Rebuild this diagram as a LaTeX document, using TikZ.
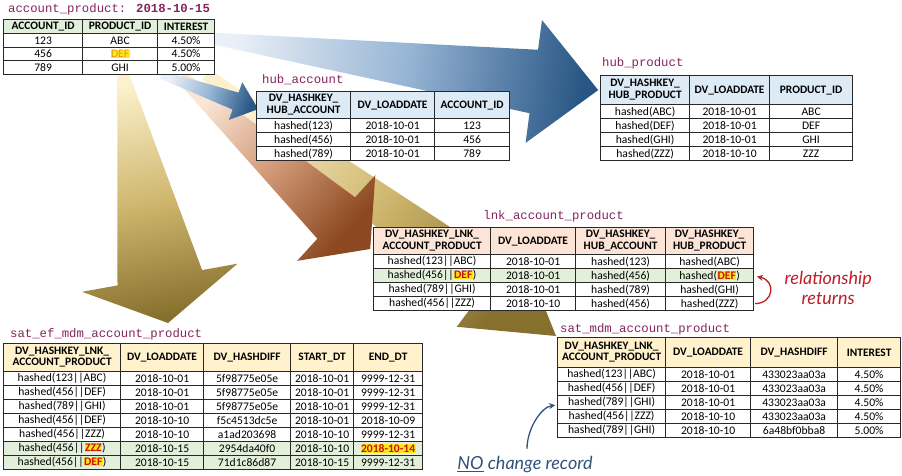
\documentclass[tikz,border=0pt]{standalone}
\usepackage{fontspec}
\setmainfont{Carlito}
\newfontfamily\titlefont{Liberation Mono}
\newfontfamily\handfont{Lato}
\usetikzlibrary{matrix,calc,arrows.meta,backgrounds}

\definecolor{tblline}{RGB}{40,40,40}
\definecolor{hdgreen}{RGB}{226,239,218}
\definecolor{hdblue}{RGB}{221,235,247}
\definecolor{hdpeach}{RGB}{252,228,214}
\definecolor{hdcream}{RGB}{255,242,204}
\definecolor{rowgreen}{RGB}{226,239,218}
\definecolor{hlyellow}{RGB}{255,228,30}
\definecolor{hlred}{RGB}{200,20,10}
\definecolor{hlgold}{RGB}{222,160,20}
\definecolor{titlecol}{RGB}{134,36,92}
\definecolor{relred}{RGB}{190,30,40}
\definecolor{noteblue}{RGB}{50,84,120}
% big arrows
\definecolor{blueL}{RGB}{234,240,248}
\definecolor{blueM}{RGB}{150,180,212}
\definecolor{blueD}{RGB}{40,86,132}
\definecolor{brownL}{RGB}{250,230,215}
\definecolor{brownM}{RGB}{208,152,118}
\definecolor{brownD}{RGB}{140,72,32}
\definecolor{goldL}{RGB}{252,241,204}
\definecolor{goldM}{RGB}{208,184,112}
\definecolor{goldD}{RGB}{135,112,45}

\newcommand{\hl}[1]{{\setlength{\fboxsep}{0.5pt}\colorbox{hlyellow}{\textcolor{hlred}{\bfseries #1}}}}
\newcommand{\hlsoft}[1]{{\setlength{\fboxsep}{0.5pt}\colorbox{hlyellow}{\textcolor{hlgold}{#1}}}}
\newcommand{\twoln}[2]{\begin{tabular}{@{}c@{}}#1\\#2\end{tabular}}

% style, tail, tip, tail half width, shaft half width, head half width, head length, shading angle
\newcommand{\flowarrow}[8]{%
  \coordinate (fa-tail) at (#2);
  \coordinate (fa-tip) at (#3);
  \coordinate (fa-base) at ($(fa-tip)!#7!(fa-tail)$);
  \shade[#1, shading angle=#8]
    ($(fa-tail)!#4!90:(fa-tip)$) -- ($(fa-base)!#5!90:(fa-tip)$)
    -- ($(fa-base)!#6!90:(fa-tip)$) -- (fa-tip)
    -- ($(fa-base)!#6!-90:(fa-tip)$) -- ($(fa-base)!#5!-90:(fa-tip)$)
    -- ($(fa-tail)!#4!-90:(fa-tip)$) -- cycle;
}

\tikzset{
  tbl/.style={matrix of nodes, inner sep=0pt, column sep=-0.8pt, row sep=-0.8pt,
    nodes={draw=tblline, line width=0.8pt, fill=white, inner sep=0pt,
      minimum height=14pt, anchor=center, font=\fontsize{11.6}{12}\selectfont}},
  hdr/.style 2 args={nodes={fill=#1, minimum height=#2,
      font=\fontsize{11.4}{11.6}\selectfont\bfseries}},
  tbltitle/.style={anchor=base west, inner sep=0pt, text=titlecol,
    font=\titlefont\fontsize{12.3}{14}\selectfont},
  blueArrow/.style={left color=blueL, right color=blueD, middle color=blueM},
  brownArrow/.style={left color=brownL, right color=brownD, middle color=brownM},
  goldArrow/.style={left color=goldL, right color=goldD, middle color=goldM},
  handnote/.style={align=center, inner sep=1pt, font=\handfont\itshape\fontsize{18}{20}\selectfont},
}

\begin{document}
\begin{tikzpicture}[x=1pt, y=-1pt]
\useasboundingbox (0,0) rectangle (902,476);

% source table
\matrix (ap) [tbl, anchor=north west,
  column 1/.style={nodes={minimum width=79pt}},
  column 2/.style={nodes={minimum width=75pt}},
  column 3/.style={nodes={minimum width=57pt}},
  nodes={minimum height=13.5pt}, row 1/.style={hdr={hdgreen}{14pt}}] at (3,19) {
  ACCOUNT\_ID & PRODUCT\_ID & INTEREST \\
  123 & ABC & 4.50\% \\
  456 & \hlsoft{DEF} & 4.50\% \\
  789 & GHI & 5.00\% \\
};
\node[tbltitle] (aptitle) at ($(ap.north west)+(5,-6)$) {account\_product: \textbf{2018-10-15}};

% hubs
\matrix (hacc) [tbl, anchor=north west,
  column 1/.style={nodes={minimum width=94pt}},
  column 2/.style={nodes={minimum width=84pt}},
  column 3/.style={nodes={minimum width=75pt}},
  row 1/.style={hdr={hdblue}{27pt}}] at (256,91) {
  \twoln{DV\_HASHKEY\_}{HUB\_ACCOUNT} & DV\_LOADDATE & ACCOUNT\_ID \\
  hashed(123) & 2018-10-01 & 123 \\
  hashed(456) & 2018-10-01 & 456 \\
  hashed(789) & 2018-10-01 & 789 \\
};
\node[tbltitle] (hacctitle) at ($(hacc.north west)+(6,-7)$) {hub\_account};

\matrix (hprod) [tbl, anchor=north west,
  column 1/.style={nodes={minimum width=89pt}},
  column 2/.style={nodes={minimum width=80pt}},
  column 3/.style={nodes={minimum width=83pt}},
  row 1/.style={hdr={hdblue}{29pt}}] at (600,75) {
  \twoln{DV\_HASHKEY\_}{HUB\_PRODUCT} & DV\_LOADDATE & PRODUCT\_ID \\
  hashed(ABC) & 2018-10-01 & ABC \\
  hashed(DEF) & 2018-10-01 & DEF \\
  hashed(GHI) & 2018-10-01 & GHI \\
  hashed(ZZZ) & 2018-10-10 & ZZZ \\
};
\node[tbltitle] (hprodtitle) at ($(hprod.north west)+(2,-8)$) {hub\_product};

% link
\matrix (lnk) [tbl, anchor=north west,
  column 1/.style={nodes={minimum width=117pt}},
  column 2/.style={nodes={minimum width=85pt}},
  column 3/.style={nodes={minimum width=90pt}},
  column 4/.style={nodes={minimum width=88pt}},
  row 1/.style={hdr={hdpeach}{27pt}},
  row 3/.style={nodes={fill=rowgreen}}] at (373,227) {
  \twoln{DV\_HASHKEY\_LNK\_}{ACCOUNT\_PRODUCT} & DV\_LOADDATE & \twoln{DV\_HASHKEY\_}{HUB\_ACCOUNT} & \twoln{DV\_HASHKEY\_}{HUB\_PRODUCT} \\
  hashed(123||ABC) & 2018-10-01 & hashed(123) & hashed(ABC) \\
  hashed(456||\hl{DEF}) & 2018-10-01 & hashed(456) & hashed(\hl{DEF}) \\
  hashed(789||GHI) & 2018-10-01 & hashed(789) & hashed(GHI) \\
  hashed(456||ZZZ) & 2018-10-10 & hashed(456) & hashed(ZZZ) \\
};
\node[tbltitle, anchor=base] (lnktitle) at ($(lnk.north)+(-10,-8)$) {lnk\_account\_product};

% satellites
\matrix (satef) [tbl, anchor=north west,
  column 1/.style={nodes={minimum width=117pt}},
  column 2/.style={nodes={minimum width=83pt}},
  column 3/.style={nodes={minimum width=87pt}},
  column 4/.style={nodes={minimum width=63pt}},
  column 5/.style={nodes={minimum width=69pt}},
  row 1/.style={hdr={hdcream}{28pt}},
  row 7/.style={nodes={fill=rowgreen}},
  row 8/.style={nodes={fill=rowgreen}}] at (3,343) {
  \twoln{DV\_HASHKEY\_LNK\_}{ACCOUNT\_PRODUCT} & DV\_LOADDATE & DV\_HASHDIFF & START\_DT & END\_DT \\
  hashed(123||ABC) & 2018-10-01 & 5f98775e05e & 2018-10-01 & 9999-12-31 \\
  hashed(456||DEF) & 2018-10-01 & 5f98775e05e & 2018-10-01 & 9999-12-31 \\
  hashed(789||GHI) & 2018-10-01 & 5f98775e05e & 2018-10-01 & 9999-12-31 \\
  hashed(456||DEF) & 2018-10-10 & f5c4513dc5e & 2018-10-01 & 2018-10-09 \\
  hashed(456||ZZZ) & 2018-10-10 & a1ad203698 & 2018-10-10 & 9999-12-31 \\
  hashed(456||\hl{ZZZ}) & 2018-10-15 & 2954da40f0 & 2018-10-10 & \hl{2018-10-14} \\
  hashed(456||\hl{DEF}) & 2018-10-15 & 71d1c86d87 & 2018-10-15 & 9999-12-31 \\
};
\node[tbltitle] (sateftitle) at ($(satef.north west)+(7,-6)$) {sat\_ef\_mdm\_account\_product};

\matrix (satmdm) [tbl, anchor=north west,
  column 1/.style={nodes={minimum width=108pt}},
  column 2/.style={nodes={minimum width=85pt}},
  column 3/.style={nodes={minimum width=87pt}},
  column 4/.style={nodes={minimum width=63pt}},
  row 1/.style={hdr={hdcream}{30pt}}] at (557,337) {
  \twoln{DV\_HASHKEY\_LNK\_}{ACCOUNT\_PRODUCT} & DV\_LOADDATE & DV\_HASHDIFF & INTEREST \\
  hashed(123||ABC) & 2018-10-01 & 433023aa03a & 4.50\% \\
  hashed(456||DEF) & 2018-10-01 & 433023aa03a & 4.50\% \\
  hashed(789||GHI) & 2018-10-01 & 433023aa03a & 4.50\% \\
  hashed(456||ZZZ) & 2018-10-10 & 433023aa03a & 4.50\% \\
  hashed(789||GHI) & 2018-10-10 & 6a48bf0bba8 & 5.00\% \\
};
\node[tbltitle] (satmdmtitle) at ($(satmdm.north west)+(3,-5)$) {sat\_mdm\_account\_product};

% notes
\node[handnote, text=relred] (relnote) at ($(lnk.east)+(74,19)$) {relationship\\returns};
\draw[relred, line width=1.3pt, -{Stealth[length=6pt,width=6pt]}]
  ($(lnk-5-4.east)+(1,0)$) .. controls ($(lnk-5-4.east)+(20,0)$) and ($(lnk-3-4.east)+(22,5)$) .. ($(lnk-3-4.east)+(3,1)$);

\node[handnote, text=noteblue] (nochg) at ($(satmdm.south west)+(-32,26)$) {\underline{NO} change record};
\draw[noteblue, line width=1.3pt, -{Stealth[length=6pt,width=6pt]}]
  ($(nochg.north)+(2,-6)$) .. controls ($(nochg.north)+(2,-26)$) and ($(satmdm-5-1.north west)+(-16,-2)$) .. ($(satmdm-5-1.north west)+(-2,-4)$);

% big arrows behind the tables
\begin{scope}[on background layer]
  \fill[white] (0,0) rectangle (902,476);
  \flowarrow{goldArrow}{$(ap.south east)+(-9,0)$}{$(satmdm.north west)+(-1,-1)$}{6pt}{28pt}{52pt}{85pt}{53}
  \flowarrow{goldArrow}{$(ap.south)+(14,0)$}{$(satef.north west)+(165,-20)$}{6pt}{43pt}{79pt}{46pt}{10.5}
  \flowarrow{brownArrow}{$(ap.south east)+(-34,2)$}{$(lnk-1-1.south west)+(-3,-6)$}{6pt}{28pt}{58pt}{46pt}{48}
  \flowarrow{blueArrow}{$(ap.south east)+(-54,0)$}{$(hacc-1-1.west)+(2,4)$}{4pt}{9pt}{20pt}{24pt}{71}
  \flowarrow{blueArrow}{$(ap.east)+(0,-8)$}{$(hprod-1-1.west)+(-2,0)$}{6pt}{32pt}{62pt}{65pt}{82.3}
\end{scope}
\end{tikzpicture}
\end{document}
